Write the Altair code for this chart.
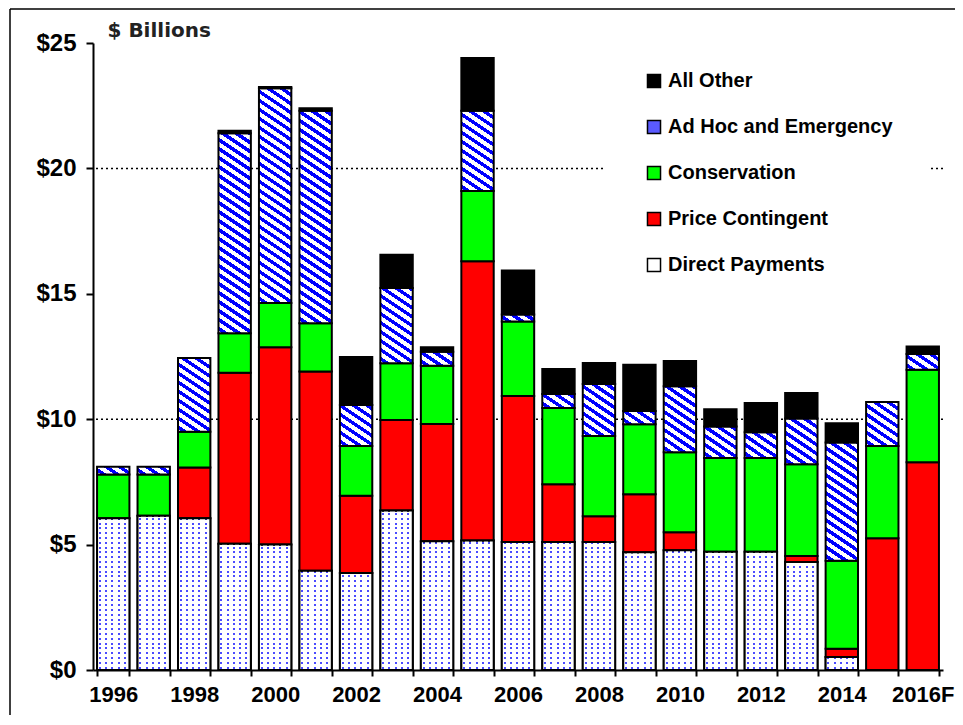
import math
import altair as alt
import pandas as pd

# ---------------- data ----------------
years = ["1996", "1997", "1998", "1999", "2000", "2001", "2002", "2003", "2004",
         "2005", "2006", "2007", "2008", "2009", "2010", "2011", "2012", "2013",
         "2014", "2015", "2016F"]
direct_payments = [6.05, 6.15, 6.05, 5.03, 5.0, 3.96, 3.87, 6.36, 5.13, 5.16, 5.1,
                   5.1, 5.1, 4.69, 4.77, 4.71, 4.71, 4.31, 0.52, 0.0, 0.0]
price_contingent = [0.0, 0.0, 2.02, 6.82, 7.87, 7.94, 3.08, 3.61, 4.68, 11.14, 5.83,
                    2.31, 1.03, 2.32, 0.72, 0.0, 0.0, 0.24, 0.33, 5.25, 8.28]
conservation = [1.75, 1.65, 1.43, 1.58, 1.76, 1.93, 1.98, 2.26, 2.32, 2.8, 2.97,
                3.04, 3.2, 2.79, 3.19, 3.74, 3.74, 3.65, 3.51, 3.68, 3.69]
ad_hoc = [0.3, 0.3, 2.94, 7.97, 8.57, 8.47, 1.64, 3.0, 0.56, 3.2, 0.27,
          0.55, 2.07, 0.53, 2.63, 1.26, 1.03, 1.83, 4.71, 1.76, 0.63]
all_other = [0.0, 0.0, 0.0, 0.1, 0.05, 0.1, 1.91, 1.33, 0.18, 2.1, 1.76,
             1.0, 0.84, 1.84, 1.01, 0.69, 1.17, 1.01, 0.77, 0.0, 0.3]
categories = ["Direct Payments", "Price Contingent", "Conservation",
              "Ad Hoc and Emergency", "All Other"]
series = [direct_payments, price_contingent, conservation, ad_hoc, all_other]
legend_order = ["All Other", "Ad Hoc and Emergency", "Conservation",
                "Price Contingent", "Direct Payments"]
legend_colors = ["#000000", "#5a5aff", "#00ff00", "#ff0000", "#ffffff"]
y_ticks = [0, 5, 10, 15, 20, 25]
grid_values = [10, 20]
shown_labels = years[::2]

# ---------------- geometry used for the fill patterns ----------------
PLOT_W, PLOT_H, Y_MAX = 850, 627, 25
PAD_IN, PAD_OUT = 0.2, 0.1
STEP = PLOT_W / (len(years) - PAD_IN + 2 * PAD_OUT)
BAR_W = STEP * (1 - PAD_IN)
PX = PLOT_H / Y_MAX
BLUE, DOT, WHITE, CLEAR = "#0000ff", "#4b4bff", "#ffffff", "rgba(255,255,255,0)"


def banded_stops(n, frac, band, base):
    stops = [{"offset": 0, "color": base}]
    for i in range(n):
        a = round((i + 0.3) / n, 6)
        b = round((i + 0.3 + frac) / n, 6)
        stops += [{"offset": a, "color": base}, {"offset": a, "color": band},
                  {"offset": b, "color": band}, {"offset": b, "color": base}]
    stops.append({"offset": 1, "color": base})
    return stops


def diagonal_stripes(h):
    # stripes running down-right with slope s, constant pixel spacing
    w = BAR_W
    s = 0.67
    v_period = 9.0
    period = v_period / math.sqrt(1 + s * s)
    n = 34
    L = period * n
    lam = math.sqrt(1 + s * s) * L / (s * s * w * w + h * h)
    return {"gradient": "linear", "x1": 0, "y1": 1, "x2": lam * s * w, "y2": 1 - lam * h,
            "stops": banded_stops(n, 0.46, BLUE, WHITE)}


def dot_rows(h):
    period = 4.8
    n = int(h // period) + 2
    L = period * n
    return {"gradient": "linear", "x1": 0, "y1": 1, "x2": 0, "y2": 1 - L / h,
            "stops": banded_stops(n, 2.0 / period, DOT, WHITE)}


def dot_cols():
    period = 6.2
    n = int(BAR_W // period) + 2
    L = period * n
    return {"gradient": "linear", "x1": 0, "y1": 0, "x2": L / BAR_W, "y2": 0,
            "stops": banded_stops(n, 2.0 / period, CLEAR, WHITE)}


solid = {"Price Contingent": "#ff0000", "Conservation": "#00ff00", "All Other": "#000000"}

rows = []
for ci, (cat, vals) in enumerate(zip(categories, series)):
    for yr, v in zip(years, vals):
        h = max(v * PX, 0.5)
        if cat == "Direct Payments":
            fill, fill2 = dot_rows(h), dot_cols()
        elif cat == "Ad Hoc and Emergency":
            fill, fill2 = diagonal_stripes(h), None
        else:
            fill, fill2 = solid[cat], None
        rows.append({"year": yr, "cat": cat, "value": v, "order": ci,
                     "fill": fill, "fill2": fill2})
df = pd.DataFrame(rows)

# ---------------- axes / scales ----------------
FONT = "Liberation Sans"
x_scale = alt.Scale(domain=years, paddingInner=PAD_IN, paddingOuter=PAD_OUT)
y_scale = alt.Scale(domain=[0, Y_MAX], nice=False)
label_list = "[" + ",".join("'%s'" % s for s in shown_labels) + "]"
x_axis = alt.Axis(title=None, labelAngle=0, tickBand="extent", tickSize=6, tickWidth=2,
                  tickColor="black", domainColor="black", domainWidth=2,
                  labelFont=FONT, labelFontWeight="bold", labelFontSize=22,
                  labelColor="black", labelPadding=8, labelOverlap=False, grid=False,
                  labelExpr="indexof(%s, datum.value) >= 0 ? datum.label : ''" % label_list)
y_axis = alt.Axis(values=y_ticks, labelExpr="'$' + datum.value", grid=False,
                  tickSize=7, tickWidth=2, tickColor="black", domainColor="black",
                  domainWidth=2, labelFont=FONT, labelFontWeight="bold", labelFontSize=24,
                  labelColor="black", labelPadding=10,
                  title="$ Billions", titleAngle=0, titleX=14, titleY=-7,
                  titleAlign="left", titleBaseline="alphabetic", titleFont="DejaVu Sans",
                  titleFontSize=20, titleFontWeight="bold", titleColor="#222222")

grid = alt.Chart(pd.DataFrame({"g": grid_values})).mark_rule(
    color="black", strokeWidth=1.5, strokeDash=[2, 3]
).encode(y=alt.Y("g:Q", scale=y_scale, axis=y_axis))

stacked = alt.Chart(df).transform_stack(
    stack="value", groupby=["year"], as_=["y0", "y1"], sort=[alt.SortField("order")]
).transform_filter("datum.value > 0")

bars = stacked.mark_bar(stroke="black", strokeWidth=2).encode(
    x=alt.X("year:N", scale=x_scale, axis=x_axis),
    y=alt.Y("y0:Q", scale=y_scale, axis=y_axis),
    y2="y1:Q",
    fill=alt.Fill("fill:N", scale=None),
)

dots = stacked.transform_filter("datum.cat === 'Direct Payments'").mark_bar(
    stroke="black", strokeWidth=2
).encode(
    x=alt.X("year:N", scale=x_scale, axis=x_axis),
    y=alt.Y("y0:Q", scale=y_scale, axis=y_axis),
    y2="y1:Q",
    fill=alt.Fill("fill2:N", scale=None),
)

legend_layer = alt.Chart(df).transform_filter("false").mark_square(
    filled=True, stroke="black", strokeWidth=1.5, size=170, opacity=1
).encode(
    color=alt.Color("cat:N", scale=alt.Scale(domain=legend_order, range=legend_colors),
                    legend=alt.Legend(
                        title=None, orient="none", legendX=513, legendY=-10,
                        padding=38, fillColor="white", symbolType="square",
                        symbolSize=170, symbolStrokeColor="black", symbolStrokeWidth=1.5,
                        labelFont=FONT, labelFontWeight="bold",
                        labelFontSize=20, labelColor="black", labelOffset=4,
                        rowPadding=26, labelLimit=400))
)

one = pd.DataFrame({"a": [0]})
frame_left = alt.Chart(one).mark_rule(color="black", strokeWidth=1.5).encode(
    x=alt.value(-83), y=alt.value(-34), y2=alt.value(700))
frame_top = alt.Chart(one).mark_rule(color="black", strokeWidth=1.5).encode(
    x=alt.value(-83), x2=alt.value(875), y=alt.value(-34))

chart = alt.layer(grid, bars, dots, legend_layer, frame_left, frame_top).properties(
    width=PLOT_W, height=PLOT_H,
    padding={"left": 85, "top": 35, "right": 12, "bottom": 45},
    autosize=alt.AutoSizeParams(type="none"),
    background="white",
).configure_view(stroke=None)

chart.save("out.html", embed_options={"renderer": "svg", "actions": False})
